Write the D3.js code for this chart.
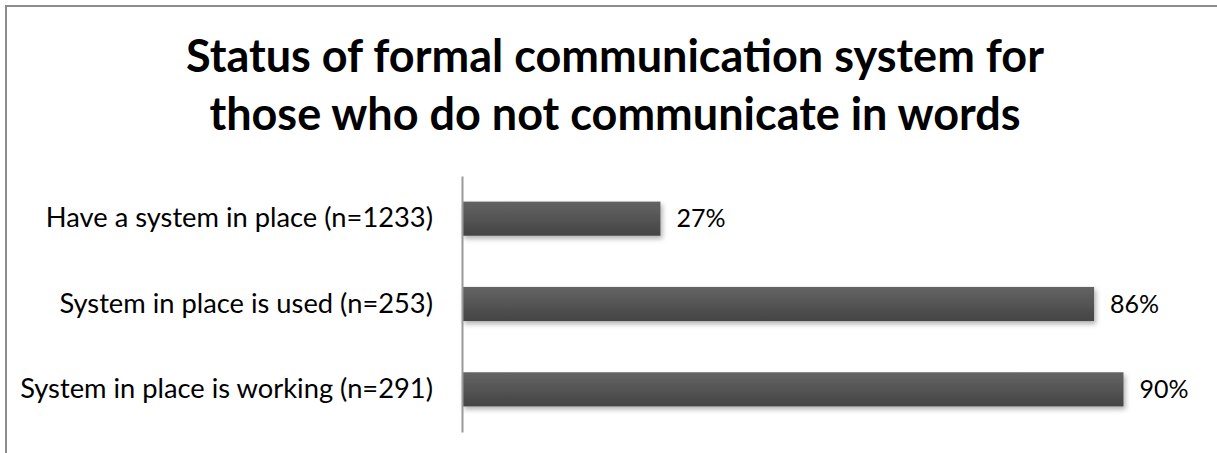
<!DOCTYPE html>
<html>
<head>
<meta charset="utf-8">
<script src="https://cdn.jsdelivr.net/npm/d3@7"></script>
<style>
  body { margin: 0; background: #fff; }
  svg { display: block; font-family: Lato, "Open Sans", sans-serif; }
</style>
</head>
<body>
<div id="chart"></div>
<script>
//chart data
const titleLines = ["Status of formal communication system for", "those who do not communicate in words"];
const categories = ["Have a system in place (n=1233)", "System in place is used (n=253)", "System in place is working (n=291)"];
const values = [27, 86, 90];

const W = 1217, H = 453;

const svg = d3.select("#chart")
    .append("svg")
    .attr("width", W)
    .attr("height", H);

//bar gradient + soft shadow
const defs = svg.append("defs");
const grad = defs.append("linearGradient")
    .attr("id", "barGrad")
    .attr("x1", 0).attr("y1", 0).attr("x2", 0).attr("y2", 1);
grad.append("stop").attr("offset", "0%").attr("stop-color", "#646464");
grad.append("stop").attr("offset", "100%").attr("stop-color", "#444444");

const shadow = defs.append("filter")
    .attr("id", "shadow")
    .attr("x", "-5%").attr("y", "-30%")
    .attr("width", "115%").attr("height", "180%");
shadow.append("feDropShadow")
    .attr("dx", 2).attr("dy", 3)
    .attr("stdDeviation", 2.5)
    .attr("flood-color", "#000")
    .attr("flood-opacity", 0.3);

//outer frame (only top/left visible)
svg.append("rect")
    .attr("x", 6).attr("y", 6)
    .attr("width", W + 20).attr("height", H + 20)
    .attr("fill", "none")
    .attr("stroke", "#8c8c8c")
    .attr("stroke-width", 2);

//title
svg.append("g")
    .selectAll("text")
    .data(titleLines)
    .enter().append("text")
    .attr("x", 615)
    .attr("y", (d, i) => 72 + i * 58)
    .attr("text-anchor", "middle")
    .style("font-size", "45px")
    .style("font-weight", "bold")
    .attr("fill", "#000")
    .text(d => d);

//scales
const x = d3.scaleLinear()
    .domain([0, 100])
    .range([462, 1197]);

const y = d3.scaleBand()
    .domain(categories)
    .range([176, 432])
    .paddingInner(0.6)
    .paddingOuter(0.3);

//bars
svg.append("g")
    .selectAll("rect")
    .data(values)
    .enter().append("rect")
    .attr("x", x(0))
    .attr("y", (d, i) => y(categories[i]))
    .attr("width", d => x(d) - x(0))
    .attr("height", y.bandwidth())
    .attr("fill", "url(#barGrad)")
    .attr("filter", "url(#shadow)");

//vertical axis (labels only, no ticks)
const yAxis = svg.append("g")
    .attr("transform", `translate(${x(0)},0)`)
    .call(d3.axisLeft(y).tickSize(0).tickPadding(29));
yAxis.select(".domain")
    .attr("stroke", "#999")
    .attr("stroke-width", 2);
yAxis.selectAll("text")
    .style("font-size", "27.3px")
    .style("font-family", "Lato, 'Open Sans', sans-serif")
    .attr("fill", "#000");

//value labels
svg.append("g")
    .selectAll("text")
    .data(values)
    .enter().append("text")
    .attr("x", d => x(d) + 16)
    .attr("y", (d, i) => y(categories[i]) + y.bandwidth() / 2)
    .attr("dy", "0.35em")
    .style("font-size", "25px")
    .attr("fill", "#000")
    .text(d => d + "%");
</script>
</body>
</html>
